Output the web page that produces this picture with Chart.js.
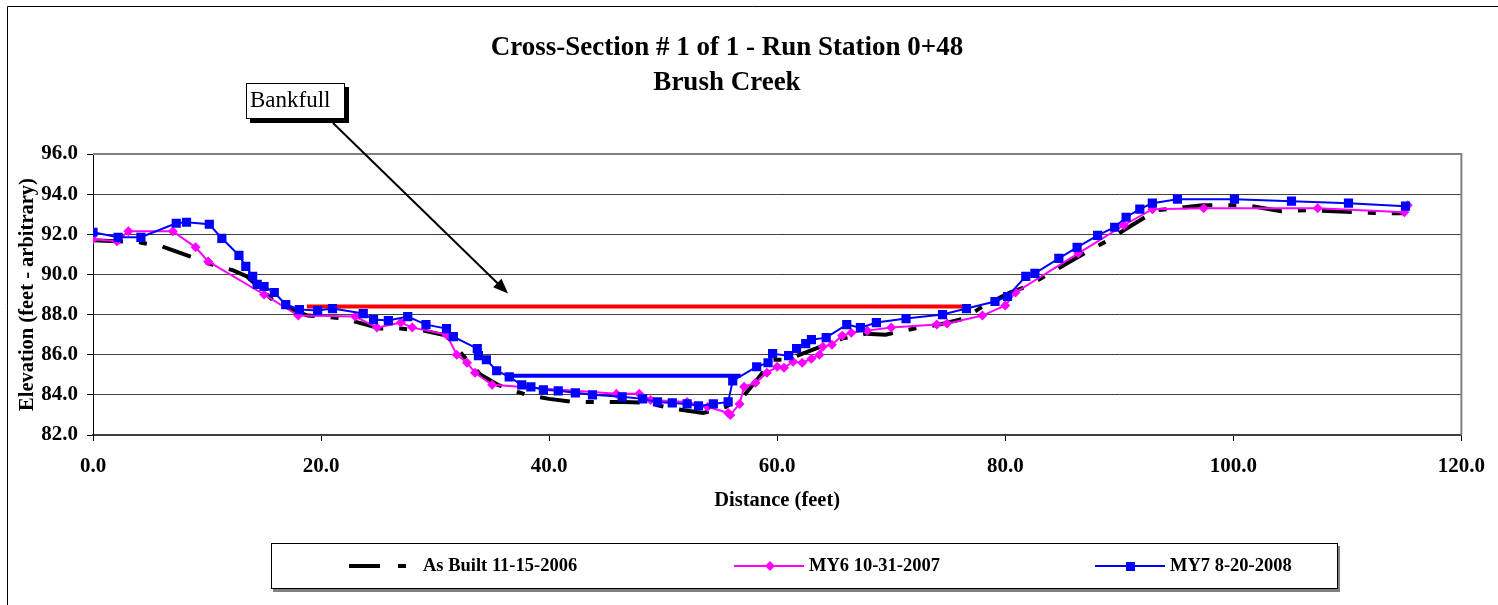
<!DOCTYPE html>
<html>
<head>
<meta charset="utf-8">
<script src="https://cdn.jsdelivr.net/npm/chart.js@4"></script>
<style>
  body { margin: 0; background: #fff; }
  #wrap { width: 1498px; height: 605px; }
</style>
</head>
<body>
<div id="wrap"><canvas id="xsec" width="1498" height="605"></canvas></div>
<script>
// survey data (distance ft, elevation ft)
const asBuiltX = [0, 2, 4, 6, 8.5, 10.4, 12.3, 13.5, 16, 18.8,
    20.2, 22, 25.2, 27, 29, 31, 32.4, 33.5, 34, 35.5,
    38, 40, 42, 46.5, 48.5, 51, 53.5, 55.5, 57, 58.3,
    59.6, 60.8, 65.7, 67.8, 69.5, 72, 74.2, 76.4, 78, 80.4,
    81.9, 87.4, 89, 91.1, 93.3, 97.3, 99.9, 101.6, 104.2, 106.5,
    110.8, 113, 115];
const asBuiltY = [91.7, 91.65, 91.6, 91.4, 90.9, 90.5, 90.2, 89.9, 88.6, 87.95,
    87.9, 87.8, 87.3, 87.3, 87.2, 86.95, 86.0, 85.3, 85.0, 84.5,
    84.0, 83.8, 83.65, 83.65, 83.6, 83.3, 83.1, 83.4, 83.9, 84.8,
    85.75, 85.75, 86.8, 87.05, 87.0, 87.3, 87.5, 87.8, 88.4, 89.1,
    89.4, 91.2, 91.7, 92.45, 93.2, 93.45, 93.45, 93.4, 93.15, 93.2,
    93.1, 93.05, 93.05];

const my6X = [0, 2.1, 3.1, 7.0, 9.0, 10.1, 15.0, 18.0, 23.0, 24.9,
    27.0, 28.0, 31.0, 31.9, 32.8, 33.5, 35.0, 45.9, 47.9, 48.9,
    52.1, 53.9, 55.7, 55.9, 56.7, 57.1, 58.1, 59.1, 60.0, 60.6,
    61.4, 62.2, 63.0, 63.7, 64.0, 64.8, 65.7, 66.5, 67.9, 70.0,
    74.0, 74.9, 78.0, 80.0, 80.9, 86.4, 90.4, 92.9, 97.4, 107.4,
    115.0, 115.3];
const my6Y = [91.75, 91.65, 92.15, 92.15, 91.35, 90.65, 89.0, 87.95, 87.9, 87.35,
    87.6, 87.35, 87.0, 86.0, 85.6, 85.1, 84.5, 84.05, 84.05, 83.75,
    83.65, 83.4, 83.1, 83.0, 83.55, 84.4, 84.6, 85.1, 85.4, 85.35,
    85.65, 85.6, 85.8, 86.0, 86.4, 86.5, 86.95, 87.1, 87.2, 87.35,
    87.5, 87.55, 87.95, 88.45, 89.1, 91.05, 92.45, 93.25, 93.3, 93.3,
    93.1, 93.45];

const my7X = [0, 2.2, 4.2, 7.3, 8.2, 10.2, 11.3, 12.8, 13.4, 14.0,
    14.4, 15.0, 15.9, 16.9, 18.1, 19.7, 21.0, 23.7, 24.6, 25.9,
    27.6, 29.2, 31.0, 31.6, 33.7, 33.8, 34.5, 35.4, 36.5, 37.6,
    38.4, 39.5, 40.8, 42.3, 43.8, 46.4, 48.2, 49.5, 50.8, 52.1,
    53.1, 54.4, 55.7, 56.1, 58.2, 59.2, 59.6, 61.0, 61.7, 62.5,
    63.0, 64.3, 66.1, 67.3, 68.7, 71.3, 74.5, 76.6, 79.1, 80.2,
    81.8, 82.6, 84.7, 86.3, 88.1, 89.6, 90.6, 91.8, 92.9, 95.1,
    100.1, 105.1, 110.1, 115.1];
const my7Y = [92.1, 91.85, 91.85, 92.55, 92.6, 92.5, 91.8, 90.95, 90.4, 89.9,
    89.5, 89.4, 89.1, 88.5, 88.25, 88.2, 88.3, 88.05, 87.75, 87.7,
    87.9, 87.5, 87.3, 86.9, 86.3, 85.95, 85.75, 85.2, 84.9, 84.5,
    84.4, 84.25, 84.2, 84.1, 84.0, 83.9, 83.8, 83.65, 83.6, 83.55,
    83.45, 83.55, 83.65, 84.7, 85.4, 85.6, 86.05, 85.95, 86.3, 86.55,
    86.75, 86.85, 87.5, 87.35, 87.6, 87.8, 88.0, 88.3, 88.65, 88.9,
    89.9, 90.05, 90.8, 91.35, 91.95, 92.35, 92.85, 93.25, 93.55, 93.75,
    93.75, 93.65, 93.55, 93.4];

const bankfullX = [18.75, 76.5];
const bankfullY = [88.4, 88.4];
const waterX = [36.5, 56.8];
const waterY = [84.95, 84.95];

const xTicks = [0, 20, 40, 60, 80, 100, 120];
const yTicks = [82, 84, 86, 88, 90, 92, 94, 96];

const titleLines = ["Cross-Section # 1 of 1 - Run Station 0+48", "Brush Creek"];
const legendLabels = ["As Built 11-15-2006", "MY6 10-31-2007", "MY7 8-20-2008"];

const SERIF = "'Liberation Serif', 'Times New Roman', serif";

function toPoints(xs, ys) {
    return xs.map((x, i) => ({ x: x, y: ys[i] }));
}

// frame, titles, bankfull callout and legend box
const decorations = {
    id: "decorations",
    beforeDraw(chart) {
        const ctx = chart.ctx;
        ctx.save();
        ctx.fillStyle = "#fff";
        ctx.fillRect(0, 0, chart.width, chart.height);
        ctx.restore();
    },
    beforeDatasetsDraw(chart) {
        const ctx = chart.ctx;
        const a = chart.chartArea;
        ctx.save();
        ctx.strokeStyle = "#808080";
        ctx.lineWidth = 2;
        ctx.beginPath();
        ctx.moveTo(a.left, a.top);
        ctx.lineTo(a.right, a.top);
        ctx.lineTo(a.right, a.bottom);
        ctx.stroke();
        ctx.restore();
    },
    afterDraw(chart) {
        const ctx = chart.ctx;
        const xs = chart.scales.x;
        const ys = chart.scales.y;
        ctx.save();

        // outer frame
        ctx.strokeStyle = "#000";
        ctx.lineWidth = 1;
        ctx.beginPath();
        ctx.moveTo(7.5, chart.height);
        ctx.lineTo(7.5, 6.5);
        ctx.lineTo(chart.width, 6.5);
        ctx.stroke();

        // title
        ctx.fillStyle = "#000";
        ctx.textAlign = "center";
        ctx.textBaseline = "middle";
        ctx.font = "bold 27px " + SERIF;
        ctx.fillText(titleLines[0], 727, 48);
        ctx.fillText(titleLines[1], 727, 83);

        // bankfull callout
        ctx.fillStyle = "#000";
        ctx.fillRect(250, 87, 99, 36);
        ctx.fillStyle = "#fff";
        ctx.fillRect(246, 83, 99, 36);
        ctx.strokeStyle = "#000";
        ctx.lineWidth = 1;
        ctx.strokeRect(246.5, 83.5, 98, 35);
        ctx.fillStyle = "#000";
        ctx.textAlign = "left";
        ctx.font = "23px " + SERIF;
        ctx.fillText("Bankfull", 250, 101);

        const sx = 333, sy = 123;
        const tx = xs.getPixelForValue(36.4);
        const ty = ys.getPixelForValue(89.05);
        const ang = Math.atan2(ty - sy, tx - sx);
        ctx.lineWidth = 2;
        ctx.beginPath();
        ctx.moveTo(sx, sy);
        ctx.lineTo(tx - 10 * Math.cos(ang), ty - 10 * Math.sin(ang));
        ctx.stroke();
        ctx.beginPath();
        ctx.moveTo(tx, ty);
        ctx.lineTo(tx - 15 * Math.cos(ang) + 6 * Math.sin(ang), ty - 15 * Math.sin(ang) - 6 * Math.cos(ang));
        ctx.lineTo(tx - 15 * Math.cos(ang) - 6 * Math.sin(ang), ty - 15 * Math.sin(ang) + 6 * Math.cos(ang));
        ctx.closePath();
        ctx.fill();

        // legend box
        ctx.fillStyle = "#808080";
        ctx.fillRect(273, 546, 1067, 46);
        ctx.fillStyle = "#fff";
        ctx.fillRect(271, 543, 1067, 46);
        ctx.strokeStyle = "#000";
        ctx.lineWidth = 1;
        ctx.strokeRect(271.5, 543.5, 1066, 45);

        const ly = 566;
        // as built sample
        ctx.fillStyle = "#000";
        ctx.fillRect(349, ly - 2, 31, 4);
        ctx.fillRect(398, ly - 2, 8, 4);
        // MY6 sample
        ctx.strokeStyle = "#ff00ff";
        ctx.lineWidth = 2;
        ctx.beginPath();
        ctx.moveTo(734, ly);
        ctx.lineTo(804, ly);
        ctx.stroke();
        ctx.fillStyle = "#ff00ff";
        ctx.beginPath();
        ctx.moveTo(770, ly - 5);
        ctx.lineTo(775, ly);
        ctx.lineTo(770, ly + 5);
        ctx.lineTo(765, ly);
        ctx.closePath();
        ctx.fill();
        // MY7 sample
        ctx.strokeStyle = "#0000ff";
        ctx.beginPath();
        ctx.moveTo(1095, ly);
        ctx.lineTo(1165, ly);
        ctx.stroke();
        ctx.fillStyle = "#0000ff";
        ctx.fillRect(1126, ly - 4, 9, 9);

        ctx.fillStyle = "#000";
        ctx.font = "bold 18.5px " + SERIF;
        ctx.textAlign = "left";
        ctx.fillText(legendLabels[0], 423, ly);
        ctx.fillText(legendLabels[1], 809, ly);
        ctx.fillText(legendLabels[2], 1170, ly);
        ctx.restore();
    }
};

const config = {
    type: "scatter",
    data: {
        datasets: [
            {
                label: "Bankfull",
                data: toPoints(bankfullX, bankfullY),
                showLine: true,
                borderColor: "#ff0000",
                borderWidth: 4,
                pointRadius: 0,
                order: 5,
            },
            {
                label: "Water",
                data: toPoints(waterX, waterY),
                showLine: true,
                borderColor: "#0000ff",
                borderWidth: 4,
                pointRadius: 0,
                order: 4,
            },
            {
                label: legendLabels[0],
                data: toPoints(asBuiltX, asBuiltY),
                showLine: true,
                borderColor: "#000",
                borderWidth: 4,
                borderDash: [30, 16, 8, 16],
                pointRadius: 0,
                order: 3,
            },
            {
                label: legendLabels[1],
                data: toPoints(my6X, my6Y),
                showLine: true,
                borderColor: "#ff00ff",
                backgroundColor: "#ff00ff",
                borderWidth: 2,
                pointStyle: "rectRot",
                pointRadius: 5,
                pointBorderWidth: 0,
                order: 2,
            },
            {
                label: legendLabels[2],
                data: toPoints(my7X, my7Y),
                showLine: true,
                borderColor: "#0000ff",
                backgroundColor: "#0000ff",
                borderWidth: 2,
                pointStyle: "rect",
                pointRadius: 6.5,
                pointBorderWidth: 0,
                order: 1,
            },
        ],
    },
    options: {
        responsive: false,
        animation: false,
        layout: { padding: { left: 11, top: 154, right: 36, bottom: 88 } },
        plugins: {
            legend: { display: false },
            tooltip: { enabled: false },
        },
        scales: {
            x: {
                type: "linear",
                min: 0,
                max: 120,
                afterFit: (s) => { s.height = 82; },
                afterBuildTicks: (s) => { s.ticks = xTicks.map((v) => ({ value: v })); },
                ticks: {
                    callback: (v) => v.toFixed(1),
                    color: "#000",
                    padding: 13,
                    maxRotation: 0,
                    font: { family: SERIF, size: 21, weight: "bold" },
                },
                grid: {
                    drawOnChartArea: false,
                    tickLength: 6,
                    tickColor: "#000",
                },
                border: { color: "#404040", width: 2 },
                title: {
                    display: true,
                    text: "Distance (feet)",
                    color: "#000",
                    font: { family: SERIF, size: 20.5, weight: "bold" },
                },
            },
            y: {
                type: "linear",
                min: 82,
                max: 96,
                afterFit: (s) => { s.width = 82; },
                afterBuildTicks: (s) => { s.ticks = yTicks.map((v) => ({ value: v })); },
                ticks: {
                    callback: (v) => v.toFixed(1),
                    color: "#000",
                    padding: 9,
                    font: { family: SERIF, size: 21, weight: "bold" },
                },
                grid: {
                    color: "#404040",
                    lineWidth: 1,
                    tickLength: 6,
                    tickColor: "#000",
                },
                border: { color: "#000", width: 1 },
                title: {
                    display: true,
                    text: "Elevation (feet - arbitrary)",
                    color: "#000",
                    font: { family: SERIF, size: 20.5, weight: "bold" },
                },
            },
        },
    },
    plugins: [decorations],
};

new Chart(document.getElementById("xsec"), config);
</script>
</body>
</html>
